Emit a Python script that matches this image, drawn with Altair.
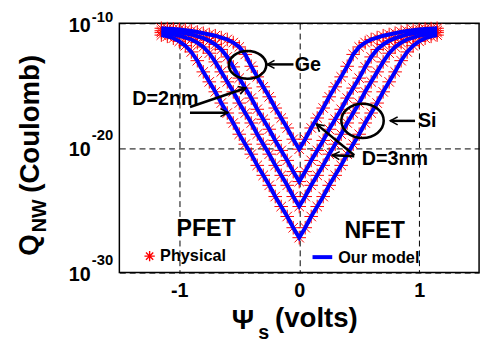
import altair as alt
import pandas as pd

FONT = "Liberation Sans"

# surface potential grid (volts)
psi = [-1.15, -1.10, -1.05, -1.00, -0.95, -0.90, -0.85, -0.80, -0.75, -0.70, -0.65, -0.60,
       -0.55, -0.50, -0.45, -0.40, -0.35, -0.30, -0.25, -0.20, -0.15, -0.10, -0.05,
       0.00, 0.05, 0.10, 0.15, 0.20, 0.25, 0.30, 0.35, 0.40, 0.45, 0.50, 0.55, 0.60,
       0.65, 0.70, 0.75, 0.80, 0.85, 0.90, 0.95, 1.00, 1.05, 1.10, 1.15]

# log10 of Q_NW (Coulomb)
ge_3nm = [-10.40, -10.43, -10.46, -10.50, -10.55, -10.62, -10.70, -10.80, -10.90, -11.00, -11.15, -11.30,
          -11.55, -11.90, -12.50, -13.45, -14.30, -15.10, -15.90, -16.80, -17.60, -18.40, -19.30,
          -20.10, -19.30, -18.40, -17.60, -16.80, -15.90, -15.10, -14.30, -13.45, -12.50, -11.90, -11.55, -11.30,
          -11.15, -11.00, -10.90, -10.80, -10.70, -10.62, -10.55, -10.50, -10.46, -10.43, -10.40]
ge_2nm = [-10.60, -10.65, -10.70, -10.75, -10.80, -10.90, -11.05, -11.20, -11.40, -11.70, -12.10, -12.70,
          -13.50, -14.40, -15.20, -16.00, -16.90, -17.70, -18.50, -19.40, -20.20, -21.00, -21.90,
          -22.70, -21.90, -21.00, -20.20, -19.40, -18.50, -17.70, -16.90, -16.00, -15.20, -14.40, -13.50, -12.70,
          -12.10, -11.70, -11.40, -11.20, -11.05, -10.90, -10.80, -10.75, -10.70, -10.65, -10.60]
si_3nm = [-10.75, -10.82, -10.90, -11.00, -11.15, -11.30, -11.55, -11.90, -12.40, -13.10, -13.90, -14.70,
          -15.50, -16.40, -17.20, -18.00, -18.90, -19.70, -20.50, -21.40, -22.20, -23.00, -23.90,
          -24.70, -23.90, -23.00, -22.20, -21.40, -20.50, -19.70, -18.90, -18.00, -17.20, -16.40, -15.50, -14.70,
          -13.90, -13.10, -12.40, -11.90, -11.55, -11.30, -11.15, -11.00, -10.90, -10.82, -10.75]
si_2nm = [-10.95, -11.05, -11.20, -11.45, -11.80, -12.30, -13.00, -13.90, -14.70, -15.50, -16.40, -17.20,
          -18.00, -18.90, -19.70, -20.50, -21.40, -22.20, -23.00, -23.90, -24.70, -25.50, -26.40,
          -27.20, -26.40, -25.50, -24.70, -23.90, -23.00, -22.20, -21.40, -20.50, -19.70, -18.90, -18.00, -17.20,
          -16.40, -15.50, -14.70, -13.90, -13.00, -12.30, -11.80, -11.45, -11.20, -11.05, -10.95]

series_names = ["Ge D=3nm", "Ge D=2nm", "Si D=3nm", "Si D=2nm"]
series_vals = [ge_3nm, ge_2nm, si_3nm, si_2nm]

y_ticks = [-10, -20, -30]
y_tick_exp = ["-10", "-20", "-30"]
y_exp_dy = [-1, -8, -8]
x_ticks = [-1, 0, 1]

# annotation geometry in data units (psi, log10 Q)
ellipse_x = [-0.431, 0.528]
ellipse_y = [-13.34, -17.83]
arrow_x1 = [-0.048, 0.966, -0.911, -0.911, 0.459, 0.459]
arrow_y1 = [-13.30, -17.83, -16.72, -17.17, -20.59, -20.67]
arrow_x2 = [-0.267, 0.760, -0.445, -0.596, 0.144, 0.275]
arrow_y2 = [-13.30, -17.83, -15.19, -17.17, -18.09, -20.59]
arrow_angle = [180, 180, 341, 0, 220, 183]
label_text = ["Ge", "Si", "D=2nm", "D=3nm"]
label_x = [-0.037, 0.990, -1.393, 0.522]
label_y = [-13.32, -17.83, -16.05, -20.91]
region_text = ["PFET", "NFET"]
region_x = [-0.777, 0.629]
region_y = [-26.52, -26.68]

rows = []
for name, vals in zip(series_names, series_vals):
    for p, v in zip(psi, vals):
        rows.append({"series": name, "psi": p, "logq": v})
df = pd.DataFrame(rows)

ASTERISK = "M-1,0L1,0M0,-1L0,1M-0.7,-0.7L0.7,0.7M-0.7,0.7L0.7,-0.7"
CHEVRON = "M-1,-0.55L0,0L-1,0.55"

xs = alt.Scale(domain=[-1.5, 1.5], nice=False, zero=False)
ys = alt.Scale(domain=[-30, -10], nice=False, zero=False)

xenc = alt.X("psi:Q", scale=xs, title=None,
             axis=alt.Axis(values=x_ticks, grid=True, gridDash=[6, 4], gridColor="black",
                           gridOpacity=1, gridWidth=1, domain=False, ticks=False, tickSize=0,
                           labelFont=FONT, labelFontSize=20, labelFontWeight="bold",
                           labelColor="black", labelPadding=8,
                           labelExpr="datum.value < 0 ? '-' + abs(datum.value) : '' + datum.value"))
yenc = alt.Y("logq:Q", scale=ys, title=None,
             axis=alt.Axis(values=y_ticks, grid=True, gridDash=[6, 4], gridColor="black",
                           gridOpacity=1, gridWidth=1, domain=False, ticks=False, tickSize=0,
                           labels=False))

base = alt.Chart(df).encode(x=xenc, y=yenc, detail="series:N")

markers = base.mark_point(shape=ASTERISK, filled=False, color="#ff0000", size=190,
                          strokeWidth=1.0, opacity=1)
lines = base.mark_line(color="#0000ff", strokeWidth=4)

# y tick labels 10^n
ydf = pd.DataFrame({"v": y_ticks, "e": y_tick_exp, "dy": y_exp_dy})
ylab10 = alt.Chart(ydf).mark_text(font=FONT, fontSize=20, fontWeight="bold", align="right",
                                   baseline="alphabetic", dy=8.5, color="black").encode(
    x=alt.value(-29), y=alt.Y("v:Q", scale=ys), text=alt.value("10"))
exp_layers = []
for v, e, d in zip(y_ticks, y_tick_exp, y_exp_dy):
    exp_layers.append(
        alt.Chart(pd.DataFrame({"v": [v], "e": [e]})).mark_text(
            font=FONT, fontSize=15, fontWeight="bold", align="left",
            baseline="alphabetic", dy=d, color="black").encode(
            x=alt.value(-28), y=alt.Y("v:Q", scale=ys), text="e:N"))

one = pd.DataFrame({"a": [0]})


def ptext(t, x, y, size, angle=0, align="left", baseline="alphabetic"):
    return alt.Chart(one).mark_text(text=t, font=FONT, fontSize=size, fontWeight="bold",
                                    align=align, baseline=baseline, angle=angle,
                                    color="black").encode(x=alt.value(x), y=alt.value(y))


# axis titles
xt1 = ptext("\u03a8", 114, 310, 28)
xt2 = ptext("s", 141, 320, 20)
xt3 = ptext("(volts)", 158, 308, 28)
yt1 = ptext("Q", -83, 236, 28, angle=270)
yt2 = ptext("NW", -74, 212, 20, angle=270)
yt3 = ptext("(Coulomb)", -82, 172, 28, angle=270)

# annotations
adf = pd.DataFrame({"x1": arrow_x1, "y1": arrow_y1, "x2": arrow_x2, "y2": arrow_y2,
                    "ang": arrow_angle})
arrows = alt.Chart(adf).mark_rule(color="black", strokeWidth=2.5).encode(
    x=alt.X("x1:Q", scale=xs), y=alt.Y("y1:Q", scale=ys), x2="x2:Q", y2="y2:Q")
heads = alt.Chart(adf).mark_point(shape=CHEVRON, filled=False, color="black", size=220,
                                  strokeWidth=1.6, opacity=1).encode(
    x=alt.X("x2:Q", scale=xs), y=alt.Y("y2:Q", scale=ys), angle=alt.Angle("ang:Q", scale=None))

edf = pd.DataFrame({"x": ellipse_x[:1], "y": ellipse_y[:1]})
edf2 = pd.DataFrame({"x": ellipse_x[1:], "y": ellipse_y[1:]})
ell1 = alt.Chart(edf).mark_point(shape="M-1,0A1,0.74,0,1,1,1,0A1,0.74,0,1,1,-1,0Z", filled=False,
                                 color="black", size=1444, strokeWidth=2.6, opacity=1).encode(
    x=alt.X("x:Q", scale=xs), y=alt.Y("y:Q", scale=ys))
ell2 = alt.Chart(edf2).mark_point(shape="M-1,0A1,0.81,0,1,1,1,0A1,0.81,0,1,1,-1,0Z", filled=False,
                                  color="black", size=1849, strokeWidth=2.6, opacity=1).encode(
    x=alt.X("x:Q", scale=xs), y=alt.Y("y:Q", scale=ys))

ldf = pd.DataFrame({"x": label_x, "y": label_y, "t": label_text})
labels = alt.Chart(ldf).mark_text(font=FONT, fontSize=20, fontWeight="bold", align="left",
                                   baseline="middle", color="black").encode(
    x=alt.X("x:Q", scale=xs), y=alt.Y("y:Q", scale=ys), text="t:N")

rdf = pd.DataFrame({"x": region_x, "y": region_y, "t": region_text})
regions = alt.Chart(rdf).mark_text(font=FONT, fontSize=23.5, fontWeight="bold", align="center",
                                    baseline="middle", color="black").encode(
    x=alt.X("x:Q", scale=xs), y=alt.Y("y:Q", scale=ys), text="t:N")

# legend (drawn inside the axes)
leg_mark = alt.Chart(one).mark_point(shape=ASTERISK, filled=False, color="#ff0000", size=110,
                                     strokeWidth=1.4, opacity=1).encode(
    x=alt.value(30.7), y=alt.value(236.3))
leg_t1 = ptext("Physical", 41.3, 236.5, 16.5, baseline="middle")
leg_line = alt.Chart(one).mark_rule(color="#0000ff", strokeWidth=4).encode(
    x=alt.value(196), x2=alt.value(216), y=alt.value(237.3))
leg_t2 = ptext("Our model", 222, 238, 16.5, baseline="middle")

chart = alt.layer(
    markers, lines, arrows, heads, ell1, ell2, labels, regions,
    leg_mark, leg_t1, leg_line, leg_t2,
    ylab10, *exp_layers, xt1, xt2, xt3, yt1, yt2, yt3
).properties(
    width=365, height=253,
    autosize=alt.AutoSizeParams(type="none"),
    padding={"left": 113, "top": 13, "right": 5, "bottom": 72},
    background="white",
).configure_view(stroke="black", strokeWidth=1.5)

chart.save("out.html", embed_options={"renderer": "svg", "actions": False})
